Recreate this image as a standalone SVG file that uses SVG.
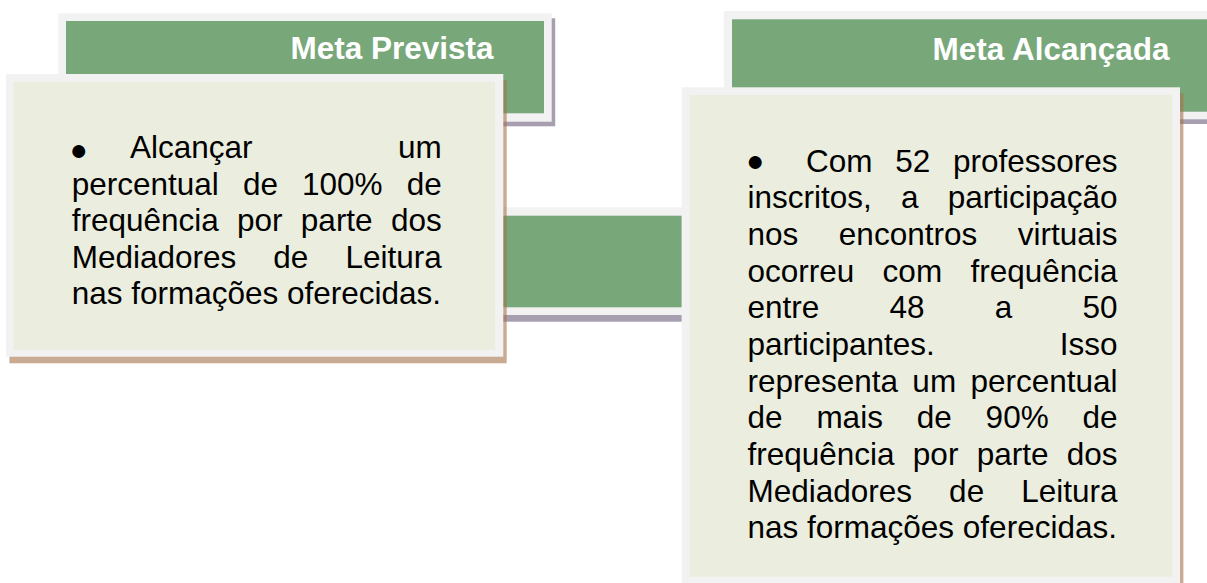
<svg xmlns="http://www.w3.org/2000/svg" width="1207" height="583" viewBox="0 0 1207 583">
  <style>
    .frame { fill: #f2f2f2; }
    .head { fill: #78a77a; }
    .panel { fill: #ebeede; }
    .shadow-p { fill: #8a7d96; opacity: 0.75; }
    .shadow-b { fill: #a5714a; opacity: 0.6; }
    .title { font-family: "Liberation Sans", Arial, sans-serif; font-size: 31.5px; font-weight: bold; fill: #ffffff; }
    .body { font-family: "Liberation Sans", Arial, sans-serif; font-size: 31.5px; fill: #000000; }
    .bullet { font-family: "Liberation Sans", Arial, sans-serif; font-size: 30px; fill: #000000; }
  </style>
  <rect width="1207" height="583" fill="#ffffff"/>

  <g id="connectors">
    <rect class="shadow-p" x="303.5" y="212" width="600" height="109.7"/>
    <rect class="frame" x="300" y="207.3" width="600" height="107.7"/>
    <rect class="head" x="300" y="215.7" width="600" height="91.6"/>
  </g>

  <g id="node-meta-prevista">
    <rect class="shadow-p" x="61.8" y="18.3" width="493.4" height="108"/>
    <rect class="frame" x="58.3" y="13.3" width="493.4" height="108.4"/>
    <rect class="head" x="66" y="21" width="478" height="92.3"/>
    <text class="title" x="493.5" y="59.3" text-anchor="end">Meta Prevista</text>
  </g>

  <g id="node-meta-alcancada">
    <rect class="shadow-p" x="727.3" y="16" width="500" height="108"/>
    <rect class="frame" x="723.8" y="11" width="500" height="108.3"/>
    <rect class="head" x="732" y="19.3" width="500" height="92.4"/>
    <text class="title" x="1169.5" y="60" text-anchor="end">Meta Alcançada</text>
  </g>

  <g id="node-prevista-body">
    <rect class="shadow-b" x="9.4" y="80" width="497.3" height="283.3"/>
    <rect class="frame" x="6" y="74" width="497.3" height="282.7"/>
    <rect class="panel" x="13.3" y="81.7" width="481.7" height="268.3"/>
    <text class="bullet" x="69.5" y="159.6">●</text>
    <text class="body" y="157.9"><tspan x="130">Alcançar</tspan><tspan x="397.95">um</tspan></text>
    <text class="body" y="194.5"><tspan x="71.7">percentual</tspan><tspan x="242.88">de</tspan><tspan x="302.02">100%</tspan><tspan x="406.68">de</tspan></text>
    <text class="body" y="231.1"><tspan x="71.7">frequência</tspan><tspan x="237.05">por</tspan><tspan x="300.85">parte</tspan><tspan x="390.92">dos</tspan></text>
    <text class="body" y="267.7"><tspan x="71.7">Mediadores</tspan><tspan x="273.32">de</tspan><tspan x="345.41">Leitura</tspan></text>
    <text class="body" x="71.7" y="304.3">nas formações oferecidas.</text>
  </g>

  <g id="node-alcancada-body">
    <rect class="shadow-b" x="685" y="93.3" width="498.4" height="500"/>
    <rect class="frame" x="681.6" y="87.3" width="498.4" height="500"/>
    <rect class="panel" x="689.6" y="95" width="482.7" height="481.7"/>
    <text class="bullet" x="746" y="170.6">●</text>
    <text class="body" y="171.7"><tspan x="806">Com</tspan><tspan x="895.2">52</tspan><tspan x="952.93">professores</tspan></text>
    <text class="body" y="208.4"><tspan x="747.5">inscritos,</tspan><tspan x="900.97">a</tspan><tspan x="947.68">participação</tspan></text>
    <text class="body" y="245"><tspan x="747.5">nos</tspan><tspan x="838.85">encontros</tspan><tspan x="1017.74">virtuais</tspan></text>
    <text class="body" y="281.7"><tspan x="747.5">ocorreu</tspan><tspan x="882.61">com</tspan><tspan x="970.43">frequência</tspan></text>
    <text class="body" y="318.3"><tspan x="747.5">entre</tspan><tspan x="889.5">48</tspan><tspan x="994.74">a</tspan><tspan x="1082.46">50</tspan></text>
    <text class="body" y="355"><tspan x="747.5">participantes.</tspan><tspan x="1059.73">Isso</tspan></text>
    <text class="body" y="391.7"><tspan x="747.5">representa</tspan><tspan x="912.37">um</tspan><tspan x="970.42">percentual</tspan></text>
    <text class="body" y="428.3"><tspan x="747.5">de</tspan><tspan x="816.38">mais</tspan><tspan x="916.73">de</tspan><tspan x="985.61">90%</tspan><tspan x="1082.49">de</tspan></text>
    <text class="body" y="465"><tspan x="747.5">frequência</tspan><tspan x="912.85">por</tspan><tspan x="976.65">parte</tspan><tspan x="1066.72">dos</tspan></text>
    <text class="body" y="501.6"><tspan x="747.5">Mediadores</tspan><tspan x="949.12">de</tspan><tspan x="1021.21">Leitura</tspan></text>
    <text class="body" x="747.5" y="538.3">nas formações oferecidas.</text>
  </g>
</svg>
